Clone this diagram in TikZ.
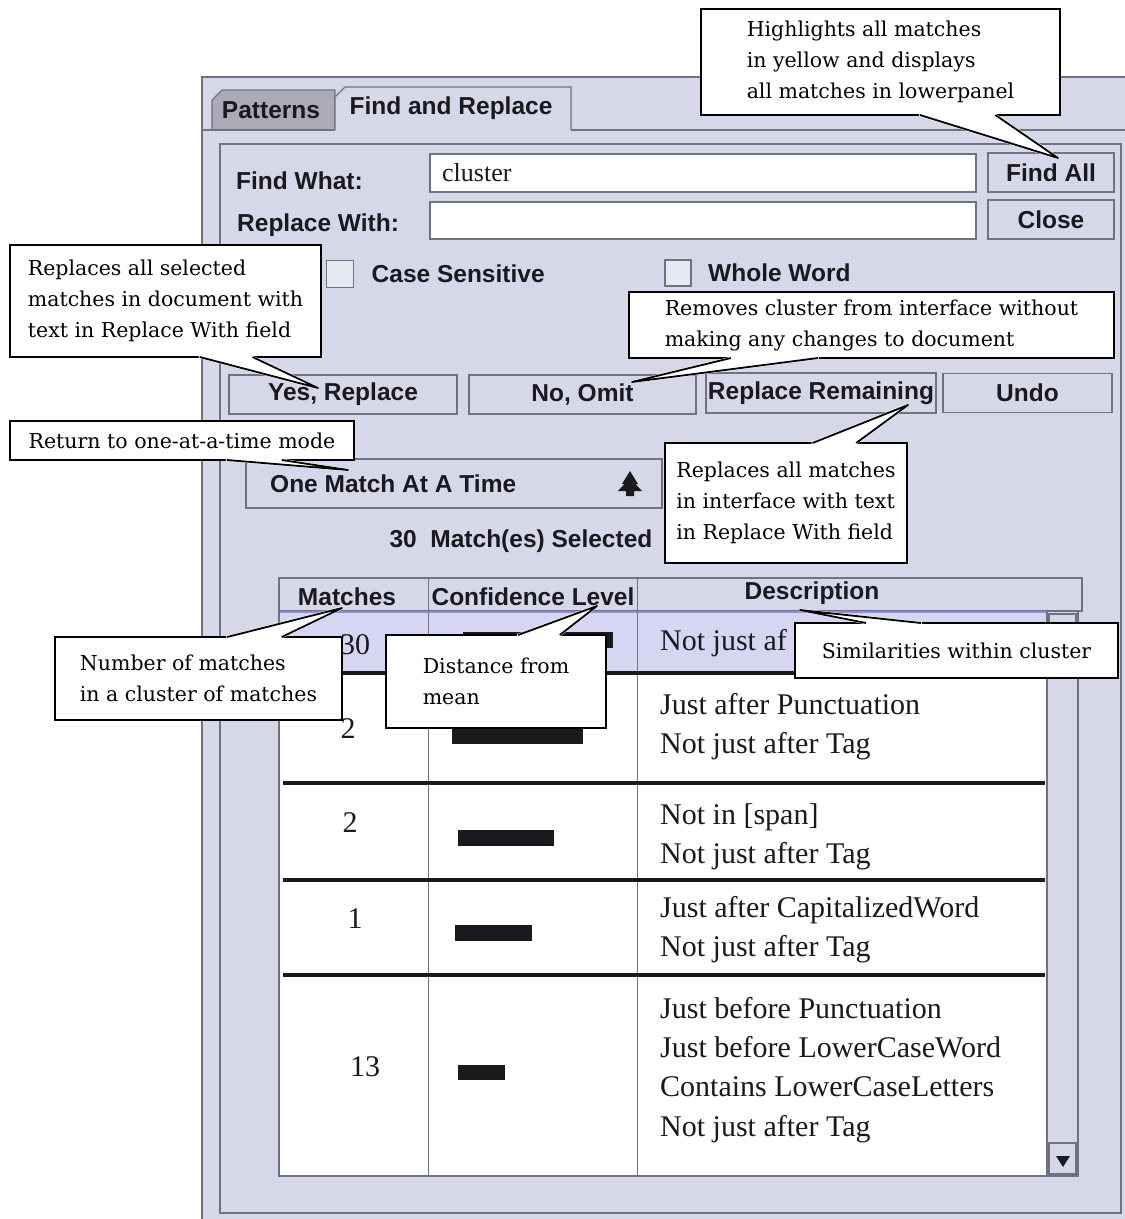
\documentclass[tikz,border=0pt]{standalone}
\usepackage{fontspec}
\setmainfont{Liberation Serif}
\setsansfont{Liberation Sans}
\newfontfamily\notefont{DejaVu Serif}
\usetikzlibrary{positioning, calc}

\definecolor{panel}{RGB}{214,216,233}
\definecolor{tabgray}{RGB}{170,171,182}
\definecolor{framegray}{RGB}{112,114,128}
\definecolor{selrow}{RGB}{214,214,244}
\definecolor{selline}{RGB}{140,140,215}
\definecolor{ink}{RGB}{25,25,30}

% pointer of a callout: node, side, two fractions along that side, tip
\newcommand{\calloutptr}[5]{%
  \path ($(#1.#2 west)!#3!(#1.#2 east)$) coordinate (#1-a)
        ($(#1.#2 west)!#4!(#1.#2 east)$) coordinate (#1-b);
  \filldraw[white, line width=2.6pt, line join=round] (#1-a) -- (#5) -- (#1-b) -- cycle;
  \draw[pointer] (#1-a) -- (#5) -- (#1-b);
}

\begin{document}
\begin{tikzpicture}[x=1pt, y=-1pt,
    ui/.style={font=\sffamily\bfseries\fontsize{24.5}{27}\selectfont, text=ink, inner sep=0pt},
    btn/.style={draw=framegray, line width=1.2pt, fill=panel, ui, outer sep=0pt},
    field/.style={draw=framegray, line width=1.2pt, fill=white, inner sep=0pt, outer sep=0pt},
    chk/.style={draw=framegray, line width=1.2pt, fill=panel!60!white, minimum size=27pt, inner sep=0pt, outer sep=0pt},
    note/.style={draw, line width=2pt, fill=white, align=left, inner sep=0pt, outer sep=0pt, font=\notefont\fontsize{20.5}{31}\selectfont},
    pointer/.style={line width=1.8pt, line join=round},
    cell/.style={font=\fontsize{30}{39.3}\selectfont, align=left, text=ink, inner sep=0pt},
    head/.style={ui},
    sep/.style={line width=4pt, ink}
]
    \useasboundingbox (0,0) rectangle (1125,1219);
    \clip (0,0) rectangle (1125,1219);
    \fill[white] (0,0) rectangle (1125,1219);

    % Window and tabs
    \filldraw[fill=panel, draw=framegray, line width=1.5pt] (202,77) rectangle (1135,1230);
    \filldraw[fill=tabgray, draw=framegray, line width=1.2pt] (212,130) -- (212,100) -- (222,90) -- (335,90) -- (335,130);
    \node[ui] (tabpat) at (271,110) {Patterns};
    \filldraw[fill=panel, draw=framegray, line width=1.2pt] (335,130) -- (335,97) -- (345,87) -- (571,87) -- (571,130);
    \node[ui] (tabfind) at (451,108) {Find and Replace};
    \draw[framegray, line width=1.2pt] (202,130) -- (335,130) (571,130) -- (1125,130);
    \draw[framegray, line width=1.2pt] (220,144) rectangle (1121,1213);

    % Find / replace fields
    \node[ui, anchor=west] (findlbl) at (236,181) {Find What:};
    \node[field, minimum width=546pt, minimum height=38pt] (findfield) at (703,173) {};
    \node[font=\fontsize{26}{28}\selectfont, text=ink, inner sep=0pt, right=12pt of findfield.west] (findtext) {cluster};
    \node[field, minimum width=546pt, minimum height=37pt, below=10pt of findfield] (replfield) {};
    \node[ui, anchor=west] (repllbl) at (237,225) {Replace With:};
    \node[btn, minimum width=126pt, minimum height=39pt] (findall) at (1051,172.5) {Find All};
    \node[btn, minimum width=126pt, minimum height=39pt, below=8pt of findall] (closebtn) {Close};

    % Options
    \node[chk] (casebox) at (340,274) {};
    \node[ui, right=18pt of casebox] (caselbl) {Case Sensitive};
    \node[chk, minimum size=26pt] (wordbox) at (678,273) {};
    \node[ui, right=17pt of wordbox] (wordlbl) {Whole Word};

    % Buttons
    \node[btn, minimum width=228pt, minimum height=39pt] (yesbtn) at (343,394.5) {Yes, Replace};
    \node[btn, minimum width=227pt, minimum height=39pt, right=12pt of yesbtn] (omitbtn) {No, Omit};
    \node[btn, minimum width=230pt, minimum height=40pt] (remainbtn) at (821,393) {Replace Remaining};
    \node[btn, minimum width=169pt, minimum height=39pt, right=7pt of remainbtn] (undobtn) {Undo};

    \node[btn, minimum width=416pt, minimum height=49pt] (onematch) at (454,483.5) {};
    \node[ui, right=24pt of onematch.west] (onetext) {One Match At A Time};
    \fill[ink] (630,471) -- (622,484) -- (638,484) -- cycle
               (630,478) -- (618,491) -- (642,491) -- cycle
               (626,490) rectangle (634,496);
    \node[ui] (selcount) at (521,541) {30\ \ Match(es) Selected};

    % Table
    \filldraw[fill=panel, draw=framegray, line width=1.2pt] (279,578) rectangle (1082,611);
    \filldraw[fill=white, draw=framegray, line width=1.2pt] (279,611) rectangle (1078,1176);
    \fill[selrow] (280,612) rectangle (1047,672);
    \draw[selline, line width=1.5pt] (280,612) -- (1047,612);
    \draw[framegray, line width=1pt] (428,578) -- (428,1176) (637,578) -- (637,1176);
    \filldraw[fill=panel, draw=framegray, line width=1.2pt] (1047,611) rectangle (1078,1176);
    \draw[framegray, line width=1.2pt] (1049,614) rectangle (1076,640);
    \draw[framegray, line width=1.2pt] (1049,1143) rectangle (1076,1174);
    \fill[ink] (1056,1156) -- (1070,1156) -- (1063,1167) -- cycle;

    \node[head] (hmatch) at (347,597) {Matches};
    \node[head] (hconf) at (533,597) {Confidence Level};
    \node[head] (hdesc) at (812,593) {Description};

    \draw[sep] (283,673) -- (1045,673);
    \draw[sep] (283,783) -- (1045,783);
    \draw[sep] (283,880) -- (1045,880);
    \draw[sep] (283,975) -- (1045,975);

    % Rows
    \node[cell] (n1) at (355,645) {30};
    \node[cell] (n2) at (348,729) {2};
    \node[cell] (n3) at (350,823) {2};
    \node[cell] (n4) at (355,919) {1};
    \node[cell] (n5) at (365,1067) {13};
    \fill[ink] (463,632) rectangle (613,648);
    \fill[ink] (452,727) rectangle (583,744);
    \fill[ink] (458,830) rectangle (554,846);
    \fill[ink] (455,925) rectangle (532,941);
    \fill[ink] (458,1065) rectangle (505,1080);
    \node[cell, anchor=west] (d1) at (660,643) {Not just af};
    \node[cell, anchor=west] (d2) at (660,727) {Just after Punctuation\\Not just after Tag};
    \node[cell, anchor=west] (d3) at (660,837) {Not in [span]\\Not just after Tag};
    \node[cell, anchor=west] (d4) at (660,930) {Just after CapitalizedWord\\Not just after Tag};
    \node[cell, anchor=west] (d5) at (660,1070) {Just before Punctuation\\Just before LowerCaseWord\\Contains LowerCaseLetters\\Not just after Tag};

    % Callouts
    \coordinate (tFindAll) at (1058,158);
    \coordinate (tYes) at (318,388);
    \coordinate (tOneMatch) at (348,470);
    \coordinate (tOmit) at (632,382);
    \coordinate (tRemain) at (908,405);
    \coordinate (tMatches) at (342,608);
    \coordinate (tLevel) at (597,606);
    \coordinate (tDesc) at (800,610);

    \node[note, minimum width=359pt, minimum height=106pt] (cHigh) at (880.5,62) {Highlights all matches\\in yellow and displays\\all matches in lowerpanel};
    \calloutptr{cHigh}{south}{.61}{.82}{tFindAll}
    \node[note, minimum width=311pt, minimum height=112pt] (cReplSel) at (165.5,301) {Replaces all selected\\matches in document with\\text in Replace With field};
    \calloutptr{cReplSel}{south}{.61}{.78}{tYes}
    \node[note, minimum width=344pt, minimum height=39pt] (cReturn) at (182,440.5) {Return to one-at-a-time mode};
    \calloutptr{cReturn}{south}{.63}{.79}{tOneMatch}
    \node[note, minimum width=485pt, minimum height=66pt] (cRemove) at (871.5,325) {Removes cluster from interface without\\making any changes to document};
    \calloutptr{cRemove}{south}{.21}{.39}{tOmit}
    \node[note, minimum width=242pt, minimum height=120pt] (cReplAll) at (786,503) {Replaces all matches\\in interface with text\\in Replace With field};
    \calloutptr{cReplAll}{north}{.61}{.79}{tRemain}
    \node[note, minimum width=287pt, minimum height=83pt] (cNumber) at (198.5,678.5) {Number of matches\\in a cluster of matches};
    \calloutptr{cNumber}{north}{.60}{.79}{tMatches}
    \node[note, minimum width=220pt, minimum height=93pt] (cDist) at (496,681.5) {Distance from\\mean};
    \calloutptr{cDist}{north}{.60}{.79}{tLevel}
    \node[note, minimum width=323pt, minimum height=55pt] (cSimilar) at (956.5,650.5) {Similarities within cluster};
    \calloutptr{cSimilar}{north}{.22}{.39}{tDesc}
\end{tikzpicture}
\end{document}
